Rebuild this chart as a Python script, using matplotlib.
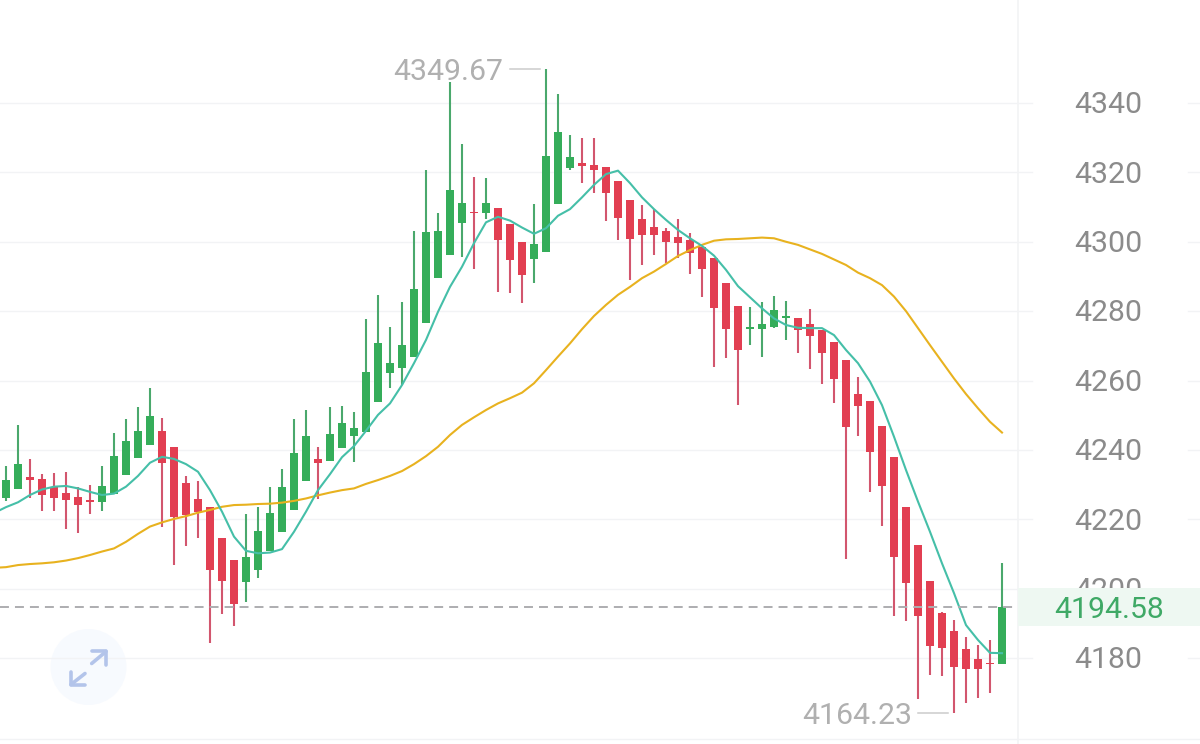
import matplotlib
matplotlib.use("Agg")
import matplotlib.pyplot as plt
from matplotlib.patches import Circle, Rectangle

plt.rcParams['font.family'] = ['Roboto', 'DejaVu Sans']

highs = [4235.4,4247.2,4237.3,4233.0,4233.3,4233.7,4229.4,4229.8,4235.4,4244.9,4248.8,4252.5,4257.8,4249.1,4240.8,4232.5,4231.0,4223.6,4214.5,4208.3,4221.6,4223.5,4229.2,4234.4,4248.9,4251.6,4240.8,4252.3,
         4252.7,4250.9,4277.6,4284.7,4275.3,4282.5,4303.0,4320.6,4308.2,4346.0,4328.1,4318.7,4318.3,4309.6,4305.0,4299.8,4310.8,4349.67,4342.6,4330.7,4330.0,4330.0,4321.5,4317.6,4312.0,4310.7,4309.4,4303.9,
         4306.6,4302.4,4298.6,4295.4,4288.2,4281.4,4281.1,4282.5,4284.4,4282.8,4278.0,4280.5,4274.6,4271.2,4265.9,4261.1,4254.2,4246.8,4238.0,4223.6,4212.5,4202.2,4193.4,4191.0,4186.0,4183.8,4185.2,4207.3]
lows = [4225.4,4228.8,4226.0,4222.5,4222.3,4217.1,4216.1,4221.5,4222.5,4227.3,4232.7,4237.7,4241.5,4217.9,4206.8,4212.4,4214.6,4184.2,4192.7,4189.2,4196.2,4203.2,4210.9,4216.2,4222.8,4231.0,4225.8,4236.7,
        4240.6,4236.5,4245.2,4253.7,4257.8,4258.7,4266.9,4276.6,4289.6,4296.2,4295.5,4292.1,4306.5,4285.6,4285.1,4282.3,4288.2,4297.1,4310.9,4320.7,4317.0,4314.1,4305.9,4300.4,4289.0,4293.4,4296.3,4293.8,
        4295.2,4290.6,4284.2,4264.0,4266.4,4252.9,4270.2,4266.7,4275.2,4271.7,4268.0,4263.4,4258.9,4253.4,4208.5,4244.1,4227.8,4218.2,4192.2,4190.7,4168.1,4175.1,4174.9,4164.23,4167.1,4168.6,4170.0,4178.2]
opens = [4226.2,4228.8,4232.3,4231.6,4229.2,4227.6,4226.4,4225.4,4225.1,4227.3,4232.7,4237.7,4241.5,4245.5,4240.8,4230.5,4225.8,4223.6,4214.5,4208.3,4201.8,4205.4,4210.9,4216.2,4222.8,4231.0,4237.4,4236.7,
         4240.6,4244.1,4245.2,4253.7,4262.1,4263.5,4266.9,4276.6,4289.6,4296.2,4305.5,4308.5,4308.2,4309.6,4305.0,4299.8,4295.1,4297.1,4310.9,4321.2,4322.7,4322.2,4321.5,4317.6,4312.0,4306.5,4304.2,4303.1,
         4301.5,4300.5,4298.6,4295.4,4288.2,4281.4,4274.9,4274.9,4275.5,4278.1,4278.0,4276.3,4274.6,4271.2,4265.9,4256.1,4254.2,4246.8,4238.0,4223.6,4212.5,4202.2,4192.9,4187.8,4182.5,4179.6,4178.6,4178.2]
closes = [4231.3,4235.8,4231.2,4227.0,4226.0,4225.6,4224.2,4225.1,4229.5,4238.2,4242.7,4245.5,4249.7,4236.1,4220.7,4221.1,4222.1,4205.5,4202.2,4195.6,4209.0,4216.5,4221.8,4229.3,4239.2,4243.9,4236.3,4244.6,
          4247.8,4246.2,4262.4,4270.7,4265.1,4270.2,4286.5,4302.7,4303.0,4314.9,4311.1,4308.2,4311.3,4300.4,4294.8,4290.5,4299.4,4324.7,4331.7,4324.4,4321.9,4320.8,4314.0,4306.8,4300.9,4302.0,4302.0,4300.0,
          4299.7,4296.8,4292.2,4281.0,4274.8,4268.7,4275.3,4276.3,4280.3,4278.5,4274.6,4272.8,4268.0,4260.4,4246.5,4252.7,4239.4,4229.6,4209.2,4201.5,4192.1,4183.6,4183.0,4177.4,4176.8,4176.9,4178.2,4194.58]

# moving averages; the first point lies one step left of the first candle
ma_fast = [4221.8,4223.5,4224.9,4227.0,4228.6,4229.4,4229.6,4228.9,4227.9,4227.0,4227.4,4229.4,4232.5,4236.3,4238.0,4237.4,4235.9,4233.7,4228.4,4222.2,4215.0,4210.9,4210.2,4210.4,4211.4,4216.4,4222.2,4228.4,4233.0,
           4237.9,4241.1,4245.5,4250.1,4253.4,4258.7,4265.0,4271.7,4279.8,4287.0,4292.8,4299.6,4305.6,4307.2,4306.1,4304.1,4302.3,4303.9,4307.5,4309.4,4312.8,4316.4,4319.5,4320.5,4316.9,4312.8,4309.4,4306.3,
           4303.4,4301.0,4298.8,4296.0,4291.9,4287.2,4284.0,4280.8,4277.9,4276.0,4275.2,4275.1,4275.1,4273.1,4268.8,4265.0,4259.7,4252.9,4243.8,4234.2,4225.1,4216.4,4207.3,4198.7,4189.5,4185.2,4181.5,4181.4]
ma_slow = [4206.0,4206.2,4206.8,4207.1,4207.3,4207.6,4208.1,4208.8,4209.7,4210.7,4211.6,4213.5,4215.8,4217.9,4219.1,4220.1,4220.9,4221.9,4222.7,4223.6,4224.1,4224.2,4224.4,4224.5,4224.8,4225.3,4226.0,4226.9,4227.7,
           4228.4,4228.9,4230.2,4231.3,4232.5,4233.9,4235.9,4238.2,4240.9,4244.3,4247.2,4249.4,4251.5,4253.4,4254.9,4256.5,4259.2,4263.0,4266.9,4270.7,4274.8,4278.6,4281.8,4284.7,4287.0,4289.5,4291.4,4293.6,
           4295.9,4297.6,4299.1,4300.3,4300.7,4300.8,4301.0,4301.2,4301.0,4300.0,4299.1,4297.8,4296.5,4294.9,4293.3,4291.1,4289.5,4287.5,4284.2,4280.0,4275.1,4270.2,4265.4,4260.6,4256.1,4252.0,4248.1,4245.0]

y_ticks = [4180, 4200, 4220, 4240, 4260, 4280, 4300, 4320, 4340]
last_price = 4194.58
max_price = 4349.67
min_price = 4164.23
max_index = highs.index(max_price)
min_index = lows.index(min_price)

GREEN, GREEN_WICK = '#35ad5a', '#4aa86c'
RED, RED_WICK = '#e23f52', '#d2566e'
TEAL, GOLD = '#45bfa8', '#e8b21f'
TICK_C, NOTE_C = '#8b8b8b', '#b0b0b0'
GRID_C = '#f2f3f5'
FS = 21.8

fig = plt.figure(figsize=(12, 7.44), dpi=100, facecolor='white')

# decoration layer in pixel units
bg = fig.add_axes([0, 0, 1, 1], zorder=0)
bg.set_xlim(0, 1200); bg.set_ylim(744, 0); bg.axis('off')
bg.add_patch(Circle((88.5, 667), 38, color='#f7fafe', lw=0))
bg.plot([0, 1200], [739, 739], color=GRID_C, lw=1)
bg.plot([1018, 1018], [0, 744], color='#f2f3f5', lw=1.2)

ax = fig.add_axes([0, 0, 1, 1], zorder=1)
ax.patch.set_alpha(0)
ax.set_xlim(-0.5, 99.5)
ax.set_ylim(4155.22, 4369.69)
ax.axis('off')
tr = ax.get_yaxis_transform()

for v in y_ticks:
    ax.plot([0, 1032/1200], [v, v], transform=tr, color=GRID_C, lw=1, zorder=1)
    ax.plot([1188/1200, 1], [v, v], transform=tr, color=GRID_C, lw=1, zorder=1)
    ax.text(1108.5/1200, v + 0.2, str(v), transform=tr, ha='center', va='center_baseline',
            fontsize=FS, color=TICK_C, zorder=2)

xs = list(range(len(highs)))
for i in xs:
    up = closes[i] >= opens[i]
    ax.vlines(i, lows[i], highs[i], color=GREEN_WICK if up else RED_WICK, lw=1.5, zorder=3)
    top, bot = max(opens[i], closes[i]), min(opens[i], closes[i])
    ax.bar(i, max(top - bot, 0.4), bottom=bot, width=0.67, color=GREEN if up else RED, lw=0, zorder=4)

x_ma = [i - 1 for i in range(len(ma_fast))]
ax.plot(x_ma, ma_slow, color=GOLD, lw=1.5, zorder=5, solid_joinstyle='round')
ax.plot(x_ma, ma_fast, color=TEAL, lw=1.5, zorder=6, solid_joinstyle='round')

# last price line and label band
ax.plot([0, 1014/1200], [last_price, last_price], transform=tr, color='#adadb0', lw=1.4,
        dashes=(4.6, 3.1), zorder=7)
ax.add_patch(Rectangle((1018/1200, last_price - 19/3.469), 182/1200, 38/3.469, transform=tr,
                       color='#eef8f2', lw=0, zorder=8))
ax.text(1109/1200, last_price, f'{last_price:.2f}', transform=tr, ha='center', va='center_baseline',
        fontsize=FS, color='#3fa966', zorder=9)

# extreme price notes
ax.plot([max_index - 3.0, max_index - 0.5], [max_price, max_price], color='#cccccc', lw=1.1, zorder=7)
ax.text(max_index - 3.55, max_price, f'{max_price:.2f}', ha='right', va='center_baseline',
        fontsize=FS, color=NOTE_C, zorder=7)
ax.plot([min_index - 3.0, min_index - 0.5], [min_price, min_price], color='#cccccc', lw=1.1, zorder=7)
ax.text(min_index - 3.5, min_price, f'{min_price:.2f}', ha='right', va='center_baseline',
        fontsize=FS, color=NOTE_C, zorder=7)

# expand icon
ov = fig.add_axes([0, 0, 1, 1], zorder=2)
ov.patch.set_alpha(0)
ov.set_xlim(0, 1200); ov.set_ylim(744, 0); ov.axis('off')
ic = dict(color='#b3c4ea', lw=2.6, solid_capstyle='round', solid_joinstyle='round')
ov.plot([91.7, 106], [663.5, 651.5], **ic)
ov.plot([92, 106, 106], [651, 651, 665], **ic)
ov.plot([85, 71], [673.5, 684.5], **ic)
ov.plot([71, 71, 85], [671.5, 685, 685], **ic)

fig.savefig('out.png', dpi=100, facecolor='white')
